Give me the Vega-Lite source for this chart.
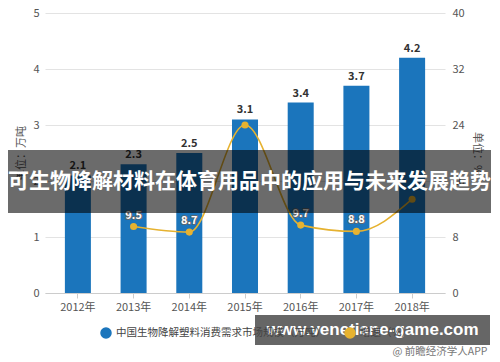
{
  "$schema": "https://vega.github.io/schema/vega-lite/v6.json",
  "width": 400,
  "height": 280,
  "autosize": {"type": "none"},
  "padding": {"left": 45, "top": 13, "right": 55, "bottom": 69},
  "background": "white",
  "config": {"view": {"stroke": null}, "font": "Noto Sans CJK SC"},
  "layer": [
    {
      "data": {"values": [
        {"year": "2012年", "scale": 2.1, "rate": null},
        {"year": "2013年", "scale": 2.3, "rate": 9.5},
        {"year": "2014年", "scale": 2.5, "rate": 8.7},
        {"year": "2015年", "scale": 3.1, "rate": 24.0},
        {"year": "2016年", "scale": 3.4, "rate": 9.7},
        {"year": "2017年", "scale": 3.7, "rate": 8.8},
        {"year": "2018年", "scale": 4.2, "rate": 13.4}
      ]},
      "encoding": {
        "x": {"field": "year", "type": "ordinal", "sort": null,
          "scale": {"paddingInner": 0.533, "paddingOuter": 0.357},
          "axis": {"title": null, "labelAngle": 0, "labelFontSize": 11, "labelColor": "#555", "domainColor": "#ccc", "tickColor": "#ccc", "tickSize": 5, "labelPadding": 3}}
      },
      "layer": [
        {
          "layer": [
            {
              "mark": {"type": "bar", "color": "#1B75BC"},
              "encoding": {
                "y": {"field": "scale", "type": "quantitative", "scale": {"domain": [0, 5], "nice": false},
                  "axis": {"values": [0, 1, 2, 3, 4, 5], "title": "单位：万吨", "titleFontSize": 11, "titleFontWeight": "normal", "titleColor": "#555", "titlePadding": 6, "labelFontSize": 11, "labelColor": "#555", "domain": false, "ticks": false, "gridColor": "#e3e3e3", "labelPadding": 6}},
                "color": {"datum": "中国生物降解塑料消费需求市场规模（万吨）", "type": "nominal",
                  "scale": {"domain": ["中国生物降解塑料消费需求市场规模（万吨）", "增速（%）"], "range": ["#1B75BC", "#E6B230"]},
                  "legend": {"title": null, "orient": "none", "legendX": 55, "legendY": 314, "direction": "horizontal", "symbolType": "circle", "symbolSize": 100, "labelFontSize": 10.5, "labelColor": "#444", "labelLimit": 0, "columnPadding": 16}}
              }
            },
            {
              "mark": {"type": "text", "dy": -9, "fontWeight": "bold", "fontSize": 11, "color": "#333"},
              "encoding": {
                "y": {"field": "scale", "type": "quantitative"},
                "text": {"field": "scale", "type": "quantitative", "format": ".1f"}
              }
            }
          ]
        },
        {
          "transform": [{"filter": "datum.rate != null"}],
          "layer": [
            {
              "mark": {"type": "line", "interpolate": "monotone", "strokeWidth": 1.6},
              "encoding": {
                "y": {"field": "rate", "type": "quantitative", "scale": {"domain": [0, 40], "nice": false},
                  "axis": {"orient": "right", "values": [0, 8, 16, 24, 32, 40], "grid": false, "title": "单位：%", "titleFontSize": 11, "titleFontWeight": "normal", "titleColor": "#555", "titlePadding": 7, "labelFontSize": 11, "labelColor": "#555", "domain": false, "ticks": false, "labelPadding": 7}},
                "color": {"datum": "增速（%）", "type": "nominal"}
              }
            },
            {
              "mark": {"type": "point", "filled": true, "size": 50, "opacity": 1},
              "encoding": {
                "y": {"field": "rate", "type": "quantitative"},
                "color": {"datum": "增速（%）", "type": "nominal"}
              }
            },
            {
              "transform": [{"filter": {"field": "year", "oneOf": ["2013年", "2014年", "2016年", "2017年"]}}],
              "mark": {"type": "text", "dy": -11, "fontWeight": "bold", "fontSize": 11, "color": "#666", "opacity": 1, "stroke": "#666", "strokeWidth": 1.6, "strokeJoin": "round"},
              "encoding": {
                "y": {"field": "rate", "type": "quantitative"},
                "text": {"field": "rate", "type": "quantitative", "format": ".1f"}
              }
            },
            {
              "transform": [{"filter": {"field": "year", "oneOf": ["2013年", "2014年", "2016年", "2017年"]}}],
              "mark": {"type": "text", "dy": -11, "fontWeight": "bold", "fontSize": 11, "color": "white", "opacity": 1},
              "encoding": {
                "y": {"field": "rate", "type": "quantitative"},
                "text": {"field": "rate", "type": "quantitative", "format": ".1f"}
              }
            }
          ],
          "resolve": {"scale": {"y": "shared"}}
        }
      ],
      "resolve": {"scale": {"y": "independent"}}
    },
    {
      "data": {"values": [{}]},
      "mark": {"type": "rect", "color": "black", "opacity": 0.58},
      "encoding": {
        "x": {"datum": -9.25, "type": "quantitative", "scale": {"domain": [0, 100], "nice": false}, "axis": null},
        "x2": {"datum": 111.5},
        "y": {"datum": 2.554, "type": "quantitative", "scale": {"domain": [0, 5], "nice": false}, "axis": null},
        "y2": {"datum": 1.43}
      }
    },
    {
      "data": {"values": [{}]},
      "mark": {"type": "text", "text": "可生物降解材料在体育用品中的应用与未来发展趋势", "color": "white", "fontWeight": "bold", "fontSize": 21, "font": "Noto Sans CJK SC", "align": "center", "baseline": "middle"},
      "encoding": {
        "x": {"datum": 51.1, "type": "quantitative", "scale": {"domain": [0, 100], "nice": false}, "axis": null},
        "y": {"datum": 1.99, "type": "quantitative", "scale": {"domain": [0, 5], "nice": false}, "axis": null}
      }
    },
    {
      "data": {"values": [{}]},
      "mark": {"type": "rect", "color": "black", "opacity": 0.6},
      "encoding": {
        "x": {"datum": 52.5, "type": "quantitative", "scale": {"domain": [0, 100], "nice": false}, "axis": null},
        "x2": {"datum": 111.25},
        "y": {"datum": -0.393, "type": "quantitative", "scale": {"domain": [0, 5], "nice": false}, "axis": null},
        "y2": {"datum": -0.929}
      }
    },
    {
      "data": {"values": [{}]},
      "mark": {"type": "text", "text": "www.venetiane-game.com", "color": "white", "fontWeight": "bold", "fontSize": 17, "font": "Liberation Sans", "align": "center", "baseline": "middle"},
      "encoding": {
        "x": {"datum": 81.9, "type": "quantitative", "scale": {"domain": [0, 100], "nice": false}, "axis": null},
        "y": {"datum": -0.66, "type": "quantitative", "scale": {"domain": [0, 5], "nice": false}, "axis": null}
      }
    },
    {
      "data": {"values": [{}]},
      "mark": {"type": "text", "text": "@ 前瞻经济学人APP", "color": "#777", "fontSize": 10.5, "font": "Noto Sans CJK SC", "align": "center", "baseline": "middle"},
      "encoding": {
        "x": {"datum": 98.75, "type": "quantitative", "scale": {"domain": [0, 100], "nice": false}, "axis": null},
        "y": {"datum": -1.054, "type": "quantitative", "scale": {"domain": [0, 5], "nice": false}, "axis": null}
      }
    }
  ],
  "resolve": {"scale": {"x": "independent", "y": "independent"}}
}
